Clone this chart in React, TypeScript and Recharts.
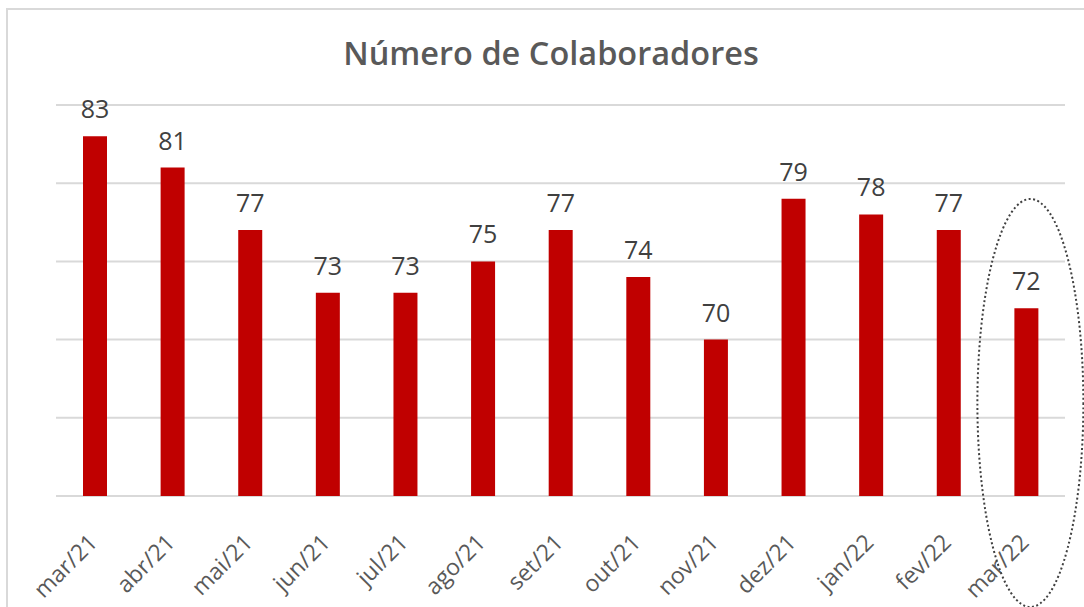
import React from 'react';
import { BarChart, Bar, XAxis, YAxis, CartesianGrid, LabelList } from 'recharts';

const months = ['mar/21', 'abr/21', 'mai/21', 'jun/21', 'jul/21', 'ago/21', 'set/21', 'out/21', 'nov/21', 'dez/21', 'jan/22', 'fev/22', 'mar/22'];
const colaboradores = [83, 81, 77, 73, 73, 75, 77, 74, 70, 79, 78, 77, 72];
const yTicks = [60, 65, 70, 75, 80, 85];
const highlightIndex = 12;
const title = 'Número de Colaboradores';

const data = months.map((m, i) => ({ month: m, value: colaboradores[i] }));

const FONT = '"Open Sans", "Noto Sans", sans-serif';

const Tick = (props: any) => {
  const { x, y, payload } = props;
  return (
    <text
      transform={`translate(${x + 4},${y + 42}) rotate(-45)`}
      textAnchor="end"
      fontSize={23}
      fill="#595959"
      fontFamily={FONT}
    >
      {payload.value}
    </text>
  );
};

const Highlight = (props: any) => {
  const vb = props.viewBox || props;
  const index = props.index;
  if (index !== highlightIndex) return null;
  const cx = vb.x + vb.width / 2 + 4;
  const bottom = vb.y + vb.height;
  return (
    <ellipse
      cx={cx}
      cy={bottom - 93}
      rx={53}
      ry={204}
      fill="none"
      stroke="#404040"
      strokeWidth={2}
      strokeDasharray="2 2.5"
    />
  );
};

export default function App() {
  return (
    <div style={{ position: 'absolute', left: 0, top: 0, width: 1084, height: 607, overflow: 'hidden', background: '#fff' }}>
      <div
        style={{
          position: 'absolute',
          left: 6,
          top: 8,
          width: 1120,
          height: 640,
          border: '2px solid #d9d9d9',
        }}
      />
      <svg style={{ position: 'absolute', left: 0, top: 0 }} width={1084} height={100}>
        <text x={551} y={65} textAnchor="middle" fontSize={32.5} fontWeight={600} fill="#595959" fontFamily={FONT}>
          {title}
        </text>
      </svg>
      <div style={{ position: 'absolute', left: 0, top: 0 }}>
        <BarChart width={1084} height={607} data={data} margin={{ top: 105, right: 19, bottom: 11, left: 56 }}>
          <CartesianGrid vertical={false} stroke="#d9d9d9" strokeWidth={2} />
          <YAxis hide domain={[60, 85]} ticks={yTicks} allowDataOverflow />
          <XAxis
            dataKey="month"
            height={100}
            axisLine={false}
            tickLine={false}
            interval={0}
            tick={<Tick />}
            tickMargin={0}
          />
          <Bar dataKey="value" fill="#C00000" barSize={24} isAnimationActive={false}>
            <LabelList dataKey="value" position="top" offset={18} fill="#404040" fontSize={25} fontFamily={FONT} />
            <LabelList dataKey="value" content={<Highlight />} />
          </Bar>
        </BarChart>
      </div>
    </div>
  );
}
